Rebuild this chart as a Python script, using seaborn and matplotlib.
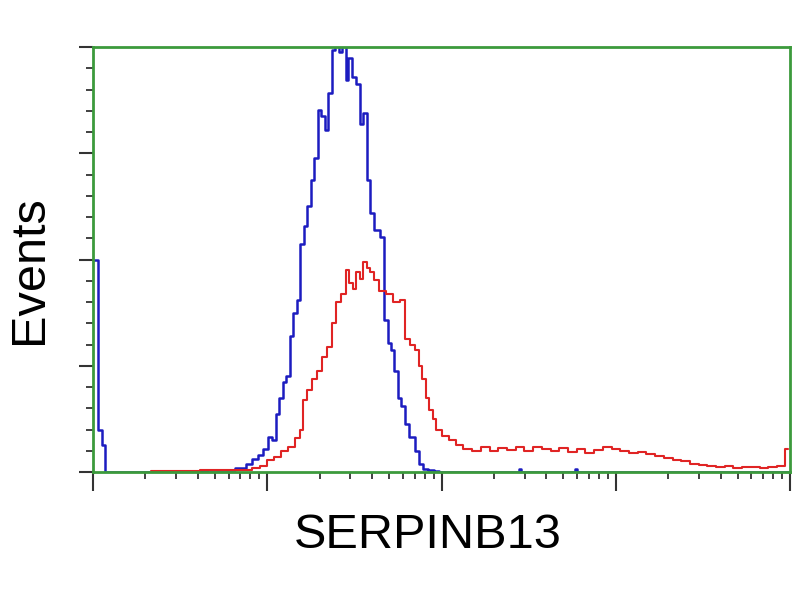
"""
Flow cytometry overlay: SERPINB13 stained (red) vs control (blue) histogram.
Output: out.png (800x600)
"""
import matplotlib
matplotlib.use("Agg")
import matplotlib.pyplot as plt
from matplotlib.ticker import LogLocator, MultipleLocator, NullFormatter
import numpy as np
import seaborn as sns

# log10 of fluorescence intensity and event counts
blue_log = [0.00, 0.02, 0.04, 0.06, 0.08, 0.30, 0.50, 0.60, 0.70, 0.78, 0.85, 0.90,
            0.93, 0.96, 0.99, 1.02, 1.04, 1.06, 1.08, 1.10, 1.12, 1.14, 1.16, 1.18,
            1.20, 1.22, 1.24, 1.26, 1.28, 1.30, 1.32, 1.34, 1.36, 1.38, 1.40, 1.42,
            1.44, 1.46, 1.47, 1.50, 1.52, 1.54, 1.56, 1.58, 1.60, 1.63, 1.66, 1.68,
            1.70, 1.72, 1.74, 1.76, 1.78, 1.80, 1.83, 1.86, 1.88, 1.91, 1.94, 1.97,
            2.00, 2.44, 2.45, 2.46, 2.76, 2.77, 2.78, 4.00]
blue_events = [200, 200, 40, 25, 0, 0, 1, 1, 1.5, 2, 4, 8,
               12, 16, 22, 33, 30, 55, 70, 85, 90, 128, 150, 162,
               215, 232, 250, 275, 296, 341, 335, 322, 357, 397, 410, 395,
               405, 369, 390, 372, 365, 328, 338, 275, 244, 228, 221, 143,
               121, 115, 95, 70, 62, 45, 33, 20, 8, 3, 2, 1,
               0, 0, 3, 0, 0, 3, 0, 0]

red_log = [0.33, 0.50, 0.70, 0.80, 0.90, 0.93, 0.98, 1.02, 1.06, 1.10, 1.14, 1.18,
           1.20, 1.21, 1.24, 1.27, 1.30, 1.33, 1.36, 1.38, 1.41, 1.44, 1.46, 1.48,
           1.50, 1.52, 1.54, 1.56, 1.58, 1.60, 1.62, 1.66, 1.70, 1.74, 1.78, 1.80,
           1.84, 1.86, 1.88, 1.90, 1.92, 1.94, 1.96, 1.98, 2.02, 2.06, 2.10, 2.15,
           2.20, 2.25, 2.30, 2.35, 2.40, 2.45, 2.50, 2.55, 2.60, 2.65, 2.70, 2.75,
           2.80, 2.85, 2.90, 2.95, 3.00, 3.05, 3.10, 3.15, 3.20, 3.25, 3.30, 3.35,
           3.40, 3.45, 3.50, 3.55, 3.60, 3.65, 3.70, 3.75, 3.80, 3.85, 3.90, 3.95,
           3.99]
red_events = [0.5, 1, 1.5, 2, 1.9, 3.8, 6, 11, 14, 20, 24, 32,
              40, 68, 77, 88, 95, 108, 118, 140, 160, 168, 190, 178,
              172, 188, 182, 198, 192, 188, 181, 170, 168, 160, 162, 125,
              120, 115, 100, 88, 70, 58, 50, 40, 34, 30, 25, 22,
              20, 24, 20, 23, 21, 24, 20, 24, 22, 20, 23, 19,
              22, 18, 21, 24, 22, 20, 18, 19, 17, 15, 13, 11,
              10, 8, 7, 6, 5, 6, 4, 5, 5, 4, 5, 6,
              22]

sns.set_theme(style="white")
plt.rcParams["font.family"] = ["Liberation Sans", "DejaVu Sans"]

GREEN = "#3c9a3c"
TICK = "#333333"

fig = plt.figure(figsize=(8, 6), dpi=100)
ax = fig.add_axes([93 / 800, 1 - 472 / 600, (790 - 93) / 800, (472 - 47) / 600])

sns.lineplot(x=np.power(10.0, blue_log), y=blue_events, ax=ax, color="#1c1cc0",
             lw=1.8, drawstyle="steps-mid", estimator=None, sort=False)
sns.lineplot(x=np.power(10.0, red_log), y=red_events, ax=ax, color="#e02424",
             lw=1.5, drawstyle="steps-mid", estimator=None, sort=False)

ax.set_xscale("log")
ax.set_xlim(1, 1e4)
ax.set_ylim(0, 400)
ax.xaxis.set_major_locator(LogLocator(base=10))
ax.xaxis.set_minor_locator(LogLocator(base=10, subs=np.arange(2, 10)))
ax.xaxis.set_major_formatter(NullFormatter())
ax.xaxis.set_minor_formatter(NullFormatter())
ax.yaxis.set_major_locator(MultipleLocator(100))
ax.yaxis.set_minor_locator(MultipleLocator(20))
ax.yaxis.set_major_formatter(NullFormatter())

ax.tick_params(axis="x", which="major", direction="out", length=14, width=1.5,
               color=TICK, bottom=True)
ax.tick_params(axis="x", which="minor", direction="out", length=5, width=1.3,
               color=TICK, bottom=True)
ax.tick_params(axis="y", which="major", direction="out", length=10, width=1.5,
               color=TICK, left=True)
ax.tick_params(axis="y", which="minor", direction="out", length=5, width=1.3,
               color=TICK, left=True)

for s in ax.spines.values():
    s.set_visible(True)
    s.set_color(GREEN)
    s.set_linewidth(2)

ax.set_xlabel("")
ax.set_ylabel("")
fig.text(428 / 800, 1 - 535 / 600, "SERPINB13", fontsize=35, color="black",
         ha="center", va="center")
fig.text(30 / 800, 1 - 270 / 600, "Events", fontsize=35, rotation=90, color="black",
         ha="center", va="center")

fig.savefig("out.png", dpi=100)
